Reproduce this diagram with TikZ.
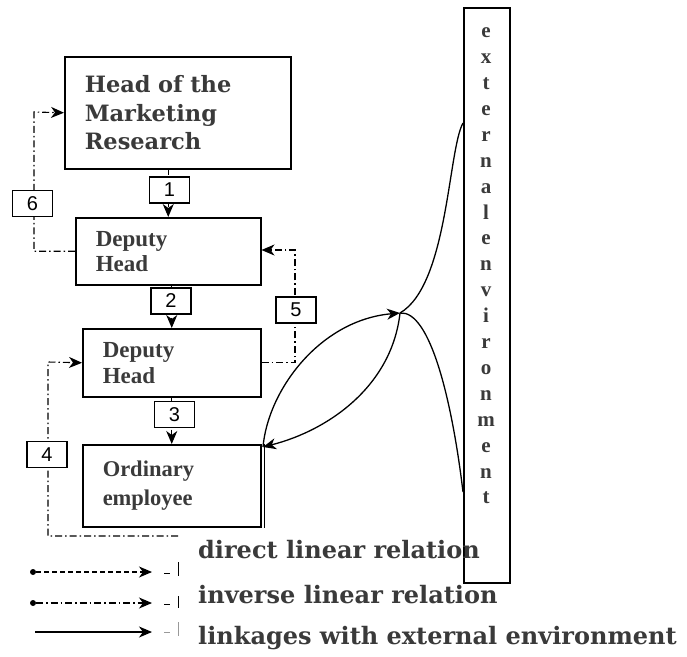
\documentclass[tikz,border=0pt]{standalone}
\usepackage{fontspec}
\setmainfont{Liberation Serif}
\newfontfamily\geo{DejaVu Serif}
\newfontfamily\numfont{Liberation Sans}
\usetikzlibrary{arrows.meta,calc}
\definecolor{txt}{HTML}{3A3A3A}
\begin{document}
\begin{tikzpicture}[x=1pt,y=-1pt,
  box/.style={draw,line width=1.5pt,inner ysep=0pt,align=left,text=txt,anchor=north west},
  lab/.style={draw,line width=1.5pt,fill=white,minimum width=40pt,minimum height=26pt,inner sep=0pt,font=\numfont\fontsize{20}{20}\selectfont},
  tip/.tip={Stealth[length=13pt,width=11pt,inset=4pt]},
  direct/.style={line width=1.1pt,dash pattern=on 5pt off 3pt},
  inverse/.style={line width=1.1pt,dash pattern=on 7pt off 3pt on 1.5pt off 3pt},
  envline/.style={line width=1.3pt},
  legtext/.style={anchor=west,text=txt,inner sep=0pt,font=\geo\bfseries\fontsize{24}{24}\selectfont},
  dot/.style={circle,fill,inner sep=0pt,minimum size=6pt}
]
\useasboundingbox (0,0) rectangle (687,656);

% main boxes
\node[box,minimum width=226pt,minimum height=112pt,text width=186pt,inner xsep=20pt,
  font=\geo\bfseries\fontsize{22.5}{28.5}\selectfont] (head) at (64,56) {Head of the\\Marketing\\Research};
\node[box,minimum width=185pt,minimum height=67pt,text width=145pt,inner xsep=20pt,
  font=\bfseries\fontsize{23}{25}\selectfont] (dep1) at (75,217) {Deputy\\Head};
\node[box,minimum width=178pt,minimum height=68pt,text width=138pt,inner xsep=20pt,
  font=\bfseries\fontsize{23}{26}\selectfont] (dep2) at (82,328) {Deputy\\Head};
\node[box,minimum width=178pt,minimum height=82pt,text width=138pt,inner xsep=20pt,
  font=\bfseries\fontsize{22.5}{29}\selectfont] (ord) at (82,444) {Ordinary\\employee};
\draw[line width=1.3pt] ($(ord.north east)+(3,0)$) -- ($(ord.south east)+(3,0)$);

% external environment
\node[draw,line width=1.5pt,minimum width=46pt,minimum height=575pt,inner sep=0pt,anchor=north west] (env) at (463,7) {};
\node[align=center,inner sep=0pt,text=txt,font=\bfseries\fontsize{21}{25.9}\selectfont] (envtxt) at (486,266)
  {e\\x\\t\\e\\r\\n\\a\\l\\e\\n\\v\\i\\r\\o\\n\\m\\e\\n\\t};

% direct relations 1-3
\draw[direct,-tip] (dep1.north |- head.south) -- (dep1.north);
\draw[direct,-tip] (dep2.north |- dep1.south) -- (dep2.north);
\draw[direct,-tip] (ord.north |- dep2.south) -- (ord.north);
\node[lab] (l1) at (169.5,190) {1};
\node[lab] (l2) at (171,301) {2};
\node[lab] (l3) at (174.5,414.5) {3};

% inverse relations 4-6
\draw[inverse,-tip] (dep1.west) -| (34,112) -- (head.west);
\node[lab] (l6) at (32.5,203.5) {6};
\draw[inverse,-tip] (dep2.east) -| (295,250) -- (dep1.east |- 0,250);
\node[lab] (l5) at (296,310) {5};
\coordinate (c4) at (178,536);
\draw[inverse,-tip] (c4) -| (48,362) -- (dep2.west);
\node[lab] (l4) at (47,454.5) {4};

% linkages with external environment
\coordinate (J) at (400,313);
\coordinate (e1) at (463,123);
\coordinate (e2) at (463,492);
\coordinate (oc) at (263,447);
\draw[envline] (e1) .. controls (448,150) and (448,285) .. (J);
\draw[envline] (J) .. controls (430,310) and (452,400) .. (e2);
\draw[envline,-tip] (oc) .. controls (268,390) and (320,320) .. (J);
\draw[envline,-tip] (J) .. controls (392,385) and (330,430) .. (oc);

% legend
\node[dot] (d1) at (33,572) {};
\coordinate (a1) at (152,572);
\draw[direct,-tip] (d1) -- (a1);
\node[dot] (d2) at (33,603) {};
\coordinate (a2) at (152,603);
\draw[inverse,-tip] (d2) -- (a2);
\coordinate (s3) at (35,632);
\coordinate (a3) at (152,632);
\draw[line width=1.1pt,-tip] (s3) -- (a3);
\draw[line width=1pt] (164,573) -- (170,573) (178,562) -- (178,576);
\draw[line width=1pt] (164,604) -- (170,604) (178,596) -- (178,608);
\draw[line width=0.6pt,black!40] (164,632) -- (170,632) (178,622) -- (178,636);
\node[legtext] (t1) at (198,550) {direct linear relation};
\node[legtext] (t2) at (198,595) {inverse linear relation};
\node[legtext] (t3) at (198,638) {linkages with external environment};
\end{tikzpicture}
\end{document}
